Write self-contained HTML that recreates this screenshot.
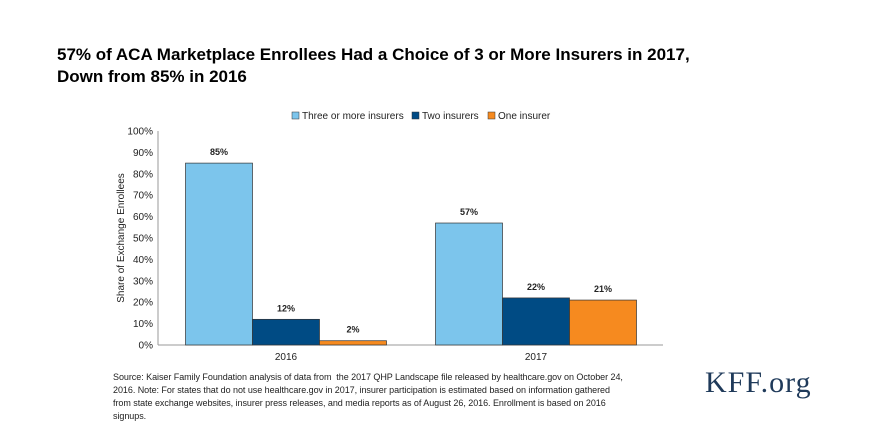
<!DOCTYPE html>
<html><head><meta charset="utf-8"><style>
body{margin:0;background:#fff;width:877px;height:438px;overflow:hidden;font-family:"Liberation Sans",sans-serif}
#title{position:absolute;left:57px;top:44px;font-size:17px;font-weight:bold;line-height:22px;color:#000}
#src{position:absolute;left:113px;top:371px;width:560px;font-size:9px;line-height:13px;color:#222;letter-spacing:-0.05px;white-space:nowrap}
#kff{position:absolute;left:705px;top:366px;font-family:"Liberation Serif",serif;font-size:30px;letter-spacing:1px;color:#1f3a5a}
</style></head><body>
<div id="title">57% of ACA Marketplace Enrollees Had a Choice of 3 or More Insurers in 2017,<br>Down from 85% in 2016</div>
<svg id="chart" width="877" height="438" style="position:absolute;left:0;top:0"></svg>
<div id="src">Source: Kaiser Family Foundation analysis of data from &nbsp;the 2017 QHP Landscape file released by healthcare.gov on October 24,<br>2016. Note: For states that do not use healthcare.gov in 2017, insurer participation is estimated based on information gathered<br>from state exchange websites, insurer press releases, and media reports as of August 26, 2016. Enrollment is based on 2016<br>signups.</div>
<div id="kff">KFF.org</div>
<script>
const categories=["2016","2017"];
const seriesNames=["Three or more insurers","Two insurers","One insurer"];
const threePlus=[85,57];
const twoIns=[12,22];
const oneIns=[2,21];
const yTicks=[0,10,20,30,40,50,60,70,80,90,100];
const colors=["#7cc5ec","#004b84","#f68a1f"];
const svg=document.getElementById('chart');const NS="http://www.w3.org/2000/svg";
function el(t,a,txt){const e=document.createElementNS(NS,t);for(const k in a)e.setAttribute(k,a[k]);if(txt!=null)e.textContent=txt;svg.appendChild(e);return e;}
const x0=161,x1=661,y0=345,y1=131;
const yS=v=>y0-(v/100)*(y0-y1);
const gw=(x1-x0)/categories.length, bw=67;
const xS=(ci,si)=>x0+gw*ci+gw/2-bw*1.5+bw*si;
yTicks.forEach(t=>{const e=el('text',{x:153,y:yS(t)+3.5,'text-anchor':'end','font-size':10,fill:'#222'},t+'%');

});
let a=el('line',{x1:158,y1:y1,x2:158,y2:y0,stroke:'#999'});


a=el('line',{x1:158,y1:y0,x2:663,y2:y0,stroke:'#999'});


const yt=el('text',{x:0,y:0,transform:'translate(124,238) rotate(-90)','text-anchor':'middle','font-size':10,fill:'#222'},'Share of Exchange Enrollees');


const series=[threePlus,twoIns,oneIns];
categories.forEach((c,ci)=>{
 const l=el('text',{x:x0+gw*ci+gw/2,y:360,'text-anchor':'middle','font-size':10,fill:'#222'},c);
 
 
 series.forEach((s,si)=>{
  const v=s[ci],x=xS(ci,si);
  const r=el('rect',{x:x,y:yS(v),width:bw,height:y0-yS(v),fill:colors[si],stroke:'#333','stroke-width':0.7});
  
  
  const t=el('text',{x:x+bw/2,y:yS(v)-8,'text-anchor':'middle','font-size':9,'font-weight':'bold',fill:'#222'},v+'%');
  
  
 });
});
const lx=[292,412,488];
seriesNames.forEach((n,i)=>{
 const r=el('rect',{x:lx[i],y:112,width:7,height:7,fill:colors[i],stroke:'#333','stroke-width':0.5});
 
 
 const t=el('text',{x:lx[i]+10,y:119,'font-size':10,fill:'#222'},n);
 
 
});
</script>
</body></html>
